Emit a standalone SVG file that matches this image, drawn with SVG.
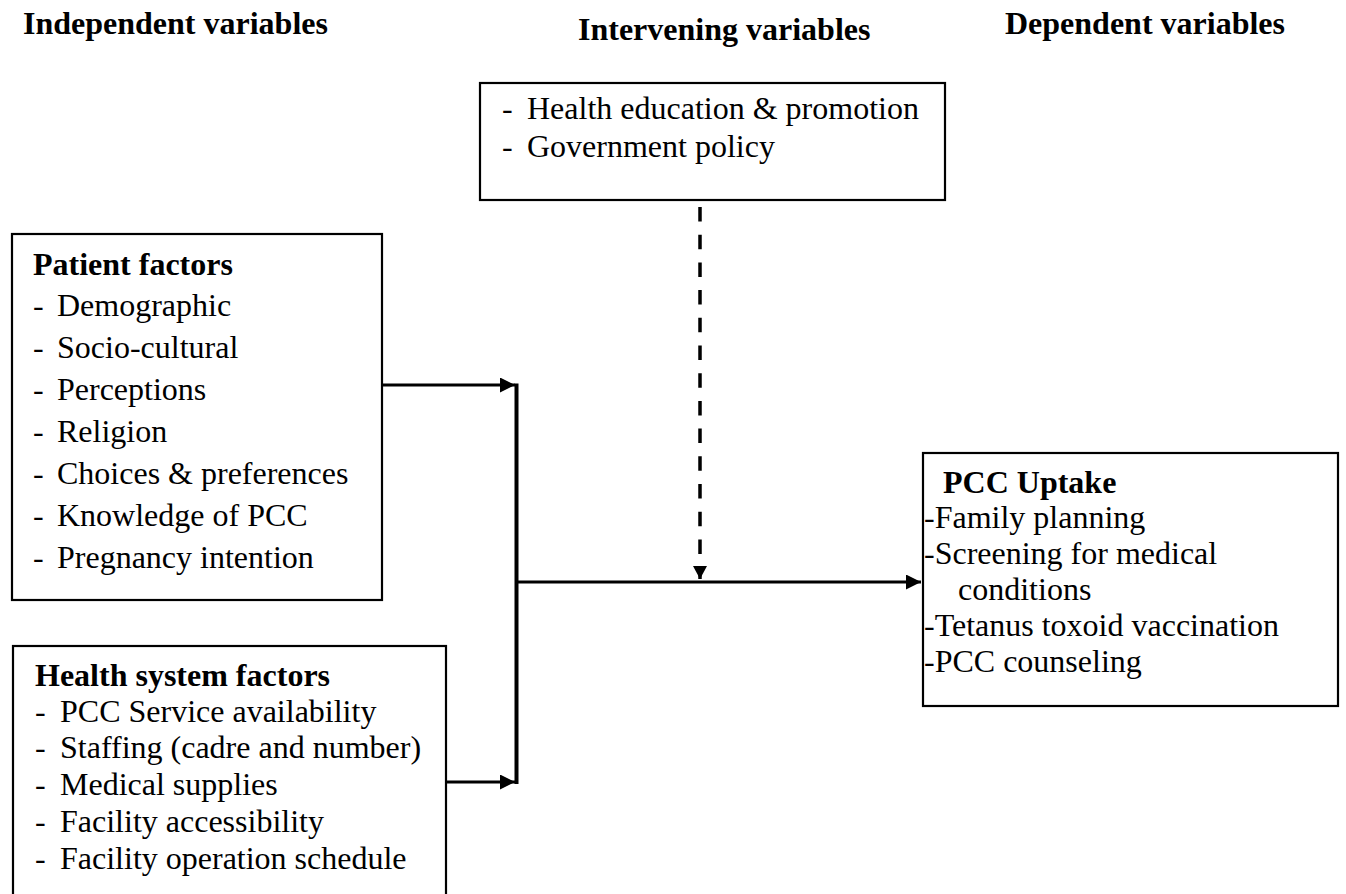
<svg xmlns="http://www.w3.org/2000/svg" width="1346" height="894" viewBox="0 0 1346 894">
<style>
.box{fill:#fff;stroke:#000;stroke-width:2.2}
.t{font-family:"Liberation Serif","Times New Roman",serif;font-size:32px;fill:#000}
.b{font-weight:bold}
.h{font-family:"Liberation Serif","Times New Roman",serif;font-size:32px;font-weight:bold;fill:#000}
.ln{stroke:#000;stroke-width:3;fill:none}
</style>
<defs>
<marker id="ah" markerUnits="userSpaceOnUse" markerWidth="16" markerHeight="16" refX="15" refY="7.5" orient="auto">
<path d="M0,0 L15,7.5 L0,15 z" fill="#000"/>
</marker>
<marker id="ahd" markerUnits="userSpaceOnUse" markerWidth="16" markerHeight="16" refX="13" refY="7" orient="auto">
<path d="M0,0 L13,7 L0,14 z" fill="#000"/>
</marker>
</defs>
<rect width="1346" height="894" fill="#fff"/>
<g id="headers">
<text class="h" x="23" y="34">Independent variables</text>
<text class="h" x="578" y="40">Intervening variables</text>
<text class="h" x="1005" y="34">Dependent variables</text>
</g>
<g id="intervening">
<rect class="box" x="480" y="83" width="465" height="117"/>
<text class="t" x="502" y="119">-</text><text class="t" x="527" y="119">Health education &amp; promotion</text>
<text class="t" x="502" y="157">-</text><text class="t" x="527" y="157">Government policy</text>
</g>
<g id="patient">
<rect class="box" x="12" y="234" width="370" height="366"/>
<text class="t b" x="33" y="275">Patient factors</text>
<g class="t">
<text x="33" y="316">-</text><text x="57" y="316">Demographic</text>
<text x="33" y="358">-</text><text x="57" y="358">Socio-cultural</text>
<text x="33" y="400">-</text><text x="57" y="400">Perceptions</text>
<text x="33" y="442">-</text><text x="57" y="442">Religion</text>
<text x="33" y="484">-</text><text x="57" y="484">Choices &amp; preferences</text>
<text x="33" y="526">-</text><text x="57" y="526">Knowledge of PCC</text>
<text x="33" y="568">-</text><text x="57" y="568">Pregnancy intention</text>
</g>
</g>
<g id="health">
<rect class="box" x="13" y="646" width="433" height="260"/>
<text class="t b" x="35" y="686">Health system factors</text>
<g class="t">
<text x="35" y="722">-</text><text x="60" y="722">PCC Service availability</text>
<text x="35" y="758">-</text><text x="60" y="758">Staffing (cadre and number)</text>
<text x="35" y="795">-</text><text x="60" y="795">Medical supplies</text>
<text x="35" y="832">-</text><text x="60" y="832">Facility accessibility</text>
<text x="35" y="869">-</text><text x="60" y="869">Facility operation schedule</text>
</g>
</g>
<g id="uptake">
<rect class="box" x="923" y="453" width="415" height="253"/>
<text class="t b" x="943" y="493">PCC Uptake</text>
<g class="t">
<text x="924" y="528">-Family planning</text>
<text x="924" y="564">-Screening for medical</text>
<text x="958" y="600">conditions</text>
<text x="924" y="636">-Tetanus toxoid vaccination</text>
<text x="924" y="672">-PCC counseling</text>
</g>
</g>
<g id="connectors">
<line class="ln" x1="383" y1="385" x2="515" y2="385" marker-end="url(#ah)"/>
<line class="ln" x1="447" y1="782" x2="515" y2="782" marker-end="url(#ah)"/>
<line x1="516.5" y1="383.5" x2="516.5" y2="784" stroke="#000" stroke-width="4"/>
<line class="ln" x1="516" y1="582" x2="921" y2="582" marker-end="url(#ah)"/>
<line x1="700" y1="207" x2="700" y2="579" stroke="#000" stroke-width="3.5" stroke-dasharray="14.5 13.2" marker-end="url(#ahd)"/>
</g>
</svg>
